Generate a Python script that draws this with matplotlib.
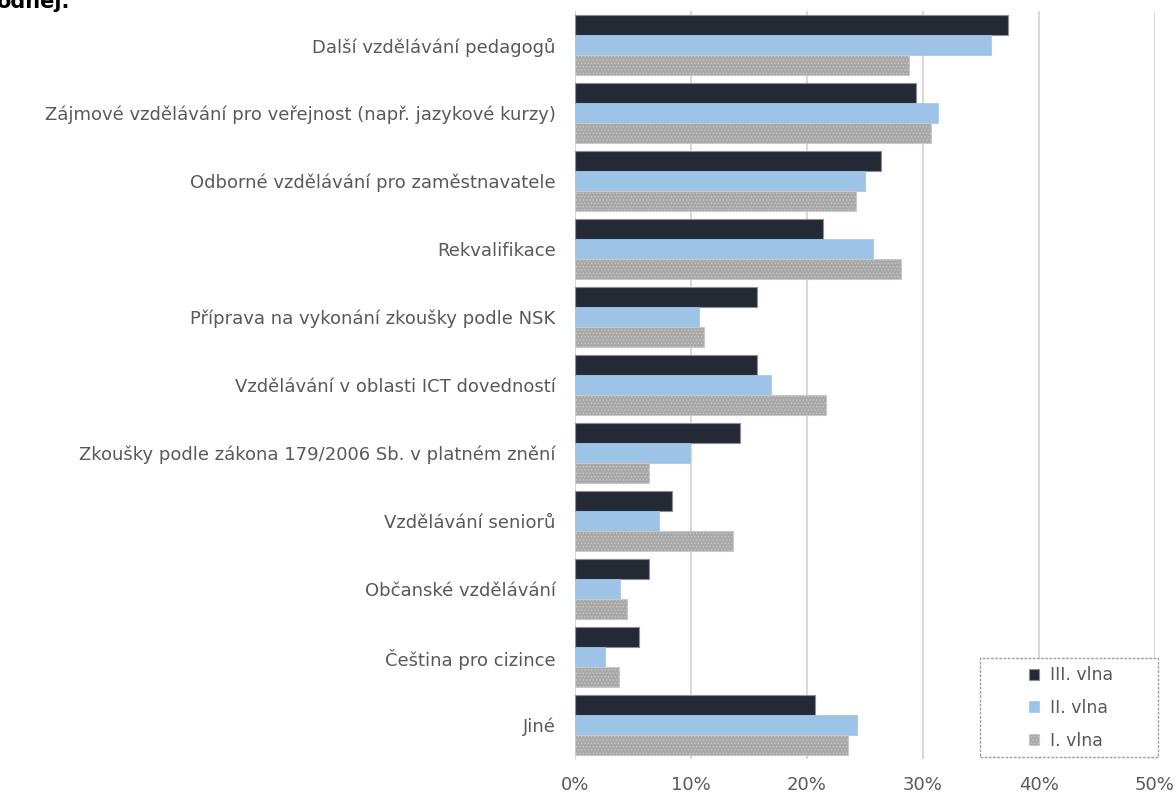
import numpy as np
import matplotlib.pyplot as plt
from matplotlib.patches import Rectangle

plt.rcParams['font.family'] = ['DejaVu Sans']

# categories top to bottom
categories = [
    'Další vzdělávání pedagogů',
    'Zájmové vzdělávání pro veřejnost (např. jazykové kurzy)',
    'Odborné vzdělávání pro zaměstnavatele',
    'Rekvalifikace',
    'Příprava na vykonání zkoušky podle NSK',
    'Vzdělávání v oblasti ICT dovedností',
    'Zkoušky podle zákona 179/2006 Sb. v platném znění',
    'Vzdělávání seniorů',
    'Občanské vzdělávání',
    'Čeština pro cizince',
    'Jiné',
]
vlna3 = [37.3, 29.4, 26.4, 21.4, 15.7, 15.7, 14.2, 8.4, 6.4, 5.5, 20.7]
vlna2 = [35.9, 31.3, 25.0, 25.7, 10.7, 16.9, 9.9, 7.2, 3.9, 2.6, 24.3]
vlna1 = [28.8, 30.7, 24.2, 28.1, 11.1, 21.6, 6.4, 13.6, 4.5, 3.8, 23.5]

series_names = ['III. vlna', 'II. vlna', 'I. vlna']
colors = ['#232a36', '#9dc3e6', '#a8a8a8']

W, H = 1176, 795
fig = plt.figure(figsize=(W / 100, H / 100), dpi=100)
ax = fig.add_axes([575 / W, 1 - 759 / H, 580 / W, 748 / H])

y = np.arange(len(categories))
h = 0.294

ax.barh(y - h, np.array(vlna3) / 100, height=h, color=colors[0],
        edgecolor='#8a8f96', linewidth=0.8, label=series_names[0], zorder=3)
ax.barh(y, np.array(vlna2) / 100, height=h, color=colors[1],
        edgecolor=colors[1], linewidth=0.5, label=series_names[1], zorder=3)
plt.rcParams['hatch.color'] = '#c4c4c4'
plt.rcParams['hatch.linewidth'] = 0.6
ax.barh(y + h, np.array(vlna1) / 100, height=h, color=colors[2],
        edgecolor='#c8c8c8', linewidth=0.8, hatch='.....', label=series_names[2], zorder=3)

ax.set_xlim(0, 0.5)
ax.set_ylim(len(categories) - 0.5, -0.5)
ticks = np.arange(0, 0.51, 0.1)
ax.set_xticks(ticks)
ax.set_xticklabels([f'{int(round(v * 100))}%' for v in ticks])
ax.set_yticks(y)
ax.set_yticklabels(categories)

ax.grid(axis='x', color='#d9d9d9', linewidth=1.5, zorder=0)
for s in ax.spines.values():
    s.set_visible(False)
ax.tick_params(length=0, labelsize=13, colors='#595959')
ax.tick_params(axis='y', pad=14)
ax.tick_params(axis='x', pad=12)

# legend box
box = Rectangle((980 / W, 1 - 757 / H), 178 / W, 99 / H, transform=fig.transFigure,
                facecolor='white', edgecolor='#a0a0a0', linewidth=1.0,
                linestyle=(0, (2, 1)), zorder=5, clip_on=False)
ax.add_patch(box)
leg = ax.legend(loc='center', bbox_to_anchor=(1071 / W, 1 - 708 / H),
                bbox_transform=fig.transFigure, fontsize=12.5, frameon=False,
                handlelength=0.6, handleheight=0.6, labelspacing=0.85,
                handletextpad=0.6, labelcolor='#595959', borderpad=0)
leg.set_zorder(6)

fig.text(-0.003, 1 - 8 / H, 'odnej.', fontweight='bold', fontsize=15,
         va='baseline', ha='left')

fig.savefig('out.png', dpi=100)
